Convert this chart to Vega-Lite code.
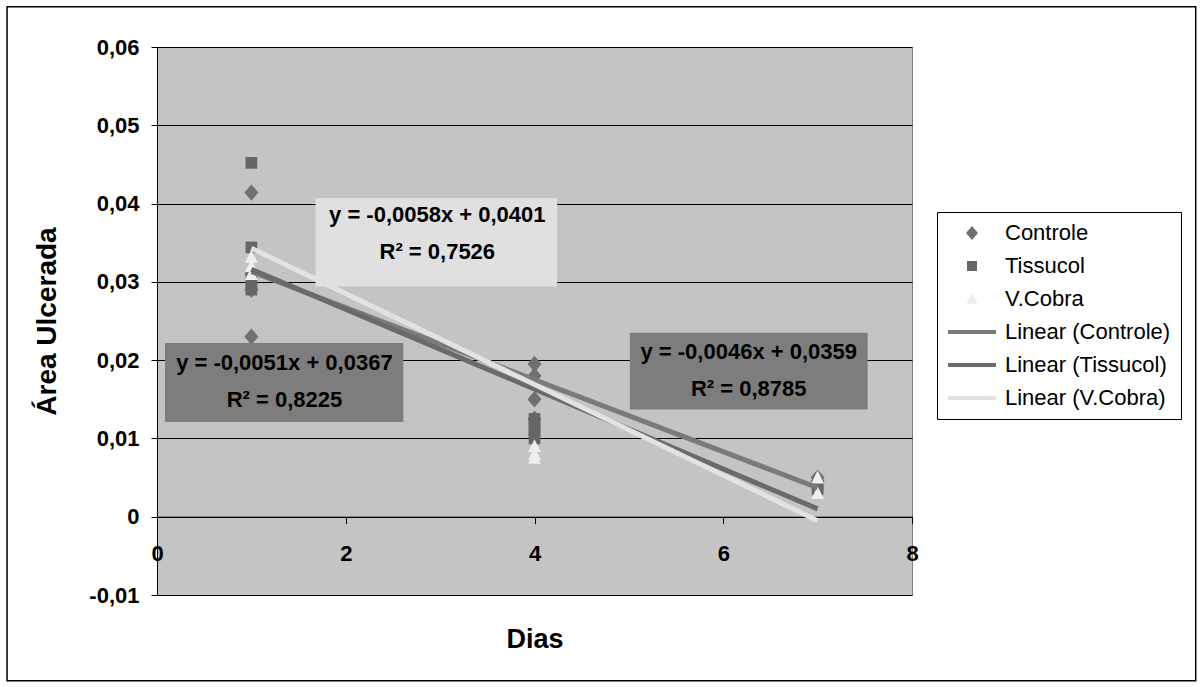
{
  "$schema": "https://vega.github.io/schema/vega-lite/v6.json",
  "width": 755,
  "height": 548,
  "autosize": {"type": "none"},
  "padding": {"left": 157, "top": 47, "right": 291, "bottom": 92},
  "background": "#ffffff",
  "config": {
    "view": {"fill": "#c4c4c4", "stroke": "#808080", "strokeWidth": 1},
    "font": "Liberation Sans"
  },
  "datasets": {
    "pontos": [
      {"dias": 1, "area": 0.0414, "serie": "Controle"},
      {"dias": 1, "area": 0.0230, "serie": "Controle"},
      {"dias": 1, "area": 0.0310, "serie": "Controle"},
      {"dias": 1, "area": 0.0290, "serie": "Controle"},
      {"dias": 4, "area": 0.0195, "serie": "Controle"},
      {"dias": 4, "area": 0.0180, "serie": "Controle"},
      {"dias": 4, "area": 0.0150, "serie": "Controle"},
      {"dias": 4, "area": 0.0125, "serie": "Controle"},
      {"dias": 7, "area": 0.0050, "serie": "Controle"},
      {"dias": 7, "area": 0.0045, "serie": "Controle"},
      {"dias": 1, "area": 0.0452, "serie": "Tissucol"},
      {"dias": 1, "area": 0.0344, "serie": "Tissucol"},
      {"dias": 1, "area": 0.0290, "serie": "Tissucol"},
      {"dias": 1, "area": 0.0300, "serie": "Tissucol"},
      {"dias": 4, "area": 0.0125, "serie": "Tissucol"},
      {"dias": 4, "area": 0.0115, "serie": "Tissucol"},
      {"dias": 4, "area": 0.0110, "serie": "Tissucol"},
      {"dias": 4, "area": 0.0100, "serie": "Tissucol"},
      {"dias": 7, "area": 0.0040, "serie": "Tissucol"},
      {"dias": 7, "area": 0.0035, "serie": "Tissucol"},
      {"dias": 1, "area": 0.0332, "serie": "V.Cobra"},
      {"dias": 1, "area": 0.0320, "serie": "V.Cobra"},
      {"dias": 1, "area": 0.0310, "serie": "V.Cobra"},
      {"dias": 4, "area": 0.0090, "serie": "V.Cobra"},
      {"dias": 4, "area": 0.0080, "serie": "V.Cobra"},
      {"dias": 4, "area": 0.0075, "serie": "V.Cobra"},
      {"dias": 7, "area": 0.0050, "serie": "V.Cobra"},
      {"dias": 7, "area": 0.0030, "serie": "V.Cobra"}
    ],
    "tendencias": [
      {"dias": 1, "area": 0.0313, "serie": "Linear (Controle)"},
      {"dias": 7, "area": 0.0037, "serie": "Linear (Controle)"},
      {"dias": 1, "area": 0.0316, "serie": "Linear (Tissucol)"},
      {"dias": 7, "area": 0.0010, "serie": "Linear (Tissucol)"},
      {"dias": 1, "area": 0.0343, "serie": "Linear (V.Cobra)"},
      {"dias": 7, "area": -0.0005, "serie": "Linear (V.Cobra)"}
    ]
  },
  "layer": [
    {
      "data": {"values": [{}]},
      "mark": {"type": "rect", "fill": null, "stroke": "#000000", "strokeWidth": 1.5, "clip": false},
      "encoding": {
        "x": {"datum": -1.589, "type": "quantitative", "scale": {"domain": [0, 8], "nice": false, "zero": false}},
        "x2": {"datum": 11.006},
        "y": {"datum": 0.06513, "type": "quantitative", "scale": {"domain": [-0.01, 0.06], "nice": false, "zero": false}},
        "y2": {"datum": -0.02094}
      }
    },
    {
      "data": {"name": "pontos"},
      "mark": {"type": "point", "filled": true, "opacity": 1, "size": 547, "strokeWidth": 0},
      "encoding": {
        "x": {
          "field": "dias", "type": "quantitative",
          "scale": {"domain": [0, 8], "nice": false, "zero": false},
          "axis": {
            "values": [0, 2, 4, 6, 8],
            "format": "d",
            "offset": -78.3,
            "grid": false,
            "domainColor": "#000000",
            "tickColor": "#000000",
            "tickSize": 7,
            "labelFont": "Liberation Sans",
            "labelFontWeight": "bold",
            "labelFontSize": 22,
            "labelColor": "#000000",
            "labelPadding": 20,
            "labelFlush": false,
            "title": "Dias",
            "titleFont": "Liberation Sans",
            "titleFontWeight": "bold",
            "titleFontSize": 27,
            "titleColor": "#000000",
            "titleBaseline": "middle",
            "titleY": 123
          }
        },
        "y": {
          "field": "area", "type": "quantitative",
          "scale": {"domain": [-0.01, 0.06], "nice": false, "zero": false},
          "axis": {
            "values": [-0.01, 0, 0.01, 0.02, 0.03, 0.04, 0.05, 0.06],
            "labelExpr": "datum.value == 0 ? '0' : (datum.value < 0 ? '-' : '') + replace(format(abs(datum.value), '.2f'), '.', ',')",
            "grid": true,
            "gridColor": "#000000",
            "gridOpacity": 1,
            "gridWidth": 1,
            "domainColor": "#000000",
            "tickColor": "#000000",
            "tickSize": 6,
            "labelFont": "Liberation Sans",
            "labelFontWeight": "bold",
            "labelFontSize": 22,
            "labelColor": "#000000",
            "labelPadding": 12,
            "labelFlush": false,
            "title": "Área Ulcerada",
            "titleFont": "Liberation Sans",
            "titleFontWeight": "bold",
            "titleFontSize": 28,
            "titleColor": "#000000",
            "titleAngle": -90,
            "titleBaseline": "middle",
            "titleAlign": "center",
            "titleX": -110
          }
        },
        "color": {
          "field": "serie", "type": "nominal",
          "scale": {
            "domain": ["Controle", "Tissucol", "V.Cobra", "Linear (Controle)", "Linear (Tissucol)", "Linear (V.Cobra)"],
            "range": ["#707070", "#666666", "#eeeeee", "#7a7a7a", "#6a6a6a", "#e2e2e2"]
          },
          "legend": {
            "title": null,
            "orient": "none",
            "legendX": 780,
            "legendY": 165,
            "direction": "vertical",
            "strokeColor": "#000000",
            "fillColor": "#ffffff",
            "padding": 10,
            "labelFont": "Liberation Sans",
            "labelFontSize": 22,
            "labelColor": "#000000",
            "labelLimit": 0,
            "labelOffset": 22,
            "rowPadding": 11,
            "symbolOffset": 14,
            "symbolSize": 400,
            "symbolStrokeWidth": 0,
            "symbolOpacity": 1,
            "encode": {"symbols": {"update": {"size": {"value": 400}, "strokeWidth": {"value": 0}, "opacity": {"value": 1}}}}
          }
        },
        "shape": {
          "field": "serie", "type": "nominal",
          "scale": {
            "domain": ["Controle", "Tissucol", "V.Cobra", "Linear (Controle)", "Linear (Tissucol)", "Linear (V.Cobra)"],
            "range": [
              "M0,-0.7L0.6,0L0,0.7L-0.6,0Z",
              "M-0.5,-0.5L0.5,-0.5L0.5,0.5L-0.5,0.5Z",
              "M0,-0.6L0.55,0.5L-0.55,0.5Z",
              "M-2.4,-0.2L2.4,-0.2L2.4,0.2L-2.4,0.2Z",
              "M-2.4,-0.2L2.4,-0.2L2.4,0.2L-2.4,0.2Z",
              "M-2.4,-0.2L2.4,-0.2L2.4,0.2L-2.4,0.2Z"
            ]
          },
          "legend": {
            "title": null,
            "orient": "none",
            "legendX": 780,
            "legendY": 165
          }
        }
      }
    },
    {
      "data": {"name": "tendencias"},
      "mark": {"type": "line", "strokeWidth": 5, "opacity": 1},
      "encoding": {
        "x": {"field": "dias", "type": "quantitative"},
        "y": {"field": "area", "type": "quantitative"},
        "color": {"field": "serie", "type": "nominal"}
      }
    },
    {
      "data": {"values": [{}]},
      "mark": {"type": "rect", "fill": "#7d7d7d"},
      "encoding": {
        "x": {"datum": 0.085, "type": "quantitative"},
        "x2": {"datum": 2.61},
        "y": {"datum": 0.0222, "type": "quantitative"},
        "y2": {"datum": 0.0121}
      }
    },
    {
      "data": {"values": [{}]},
      "mark": {"type": "rect", "fill": "#7d7d7d"},
      "encoding": {
        "x": {"datum": 5.01, "type": "quantitative"},
        "x2": {"datum": 7.53},
        "y": {"datum": 0.0235, "type": "quantitative"},
        "y2": {"datum": 0.0137}
      }
    },
    {
      "data": {"values": [{}]},
      "mark": {"type": "rect", "fill": "#e0e0e0"},
      "encoding": {
        "x": {"datum": 1.68, "type": "quantitative"},
        "x2": {"datum": 4.24},
        "y": {"datum": 0.0407, "type": "quantitative"},
        "y2": {"datum": 0.0294}
      }
    },
    {
      "data": {"values": [{}]},
      "mark": {"type": "text", "text": ["y = -0,0051x + 0,0367", "R² = 0,8225"], "font": "Liberation Sans", "fontWeight": "bold", "fontSize": 22, "lineHeight": 37, "align": "center", "baseline": "middle", "color": "#000000"},
      "encoding": {
        "x": {"datum": 1.35, "type": "quantitative"},
        "y": {"datum": 0.01963, "type": "quantitative"}
      }
    },
    {
      "data": {"values": [{}]},
      "mark": {"type": "text", "text": ["y = -0,0046x + 0,0359", "R² = 0,8785"], "font": "Liberation Sans", "fontWeight": "bold", "fontSize": 22, "lineHeight": 37, "align": "center", "baseline": "middle", "color": "#000000"},
      "encoding": {
        "x": {"datum": 6.27, "type": "quantitative"},
        "y": {"datum": 0.02104, "type": "quantitative"}
      }
    },
    {
      "data": {"values": [{}]},
      "mark": {"type": "text", "text": ["y = -0,0058x + 0,0401", "R² = 0,7526"], "font": "Liberation Sans", "fontWeight": "bold", "fontSize": 22, "lineHeight": 37, "align": "center", "baseline": "middle", "color": "#000000"},
      "encoding": {
        "x": {"datum": 2.97, "type": "quantitative"},
        "y": {"datum": 0.03851, "type": "quantitative"}
      }
    }
  ]
}
